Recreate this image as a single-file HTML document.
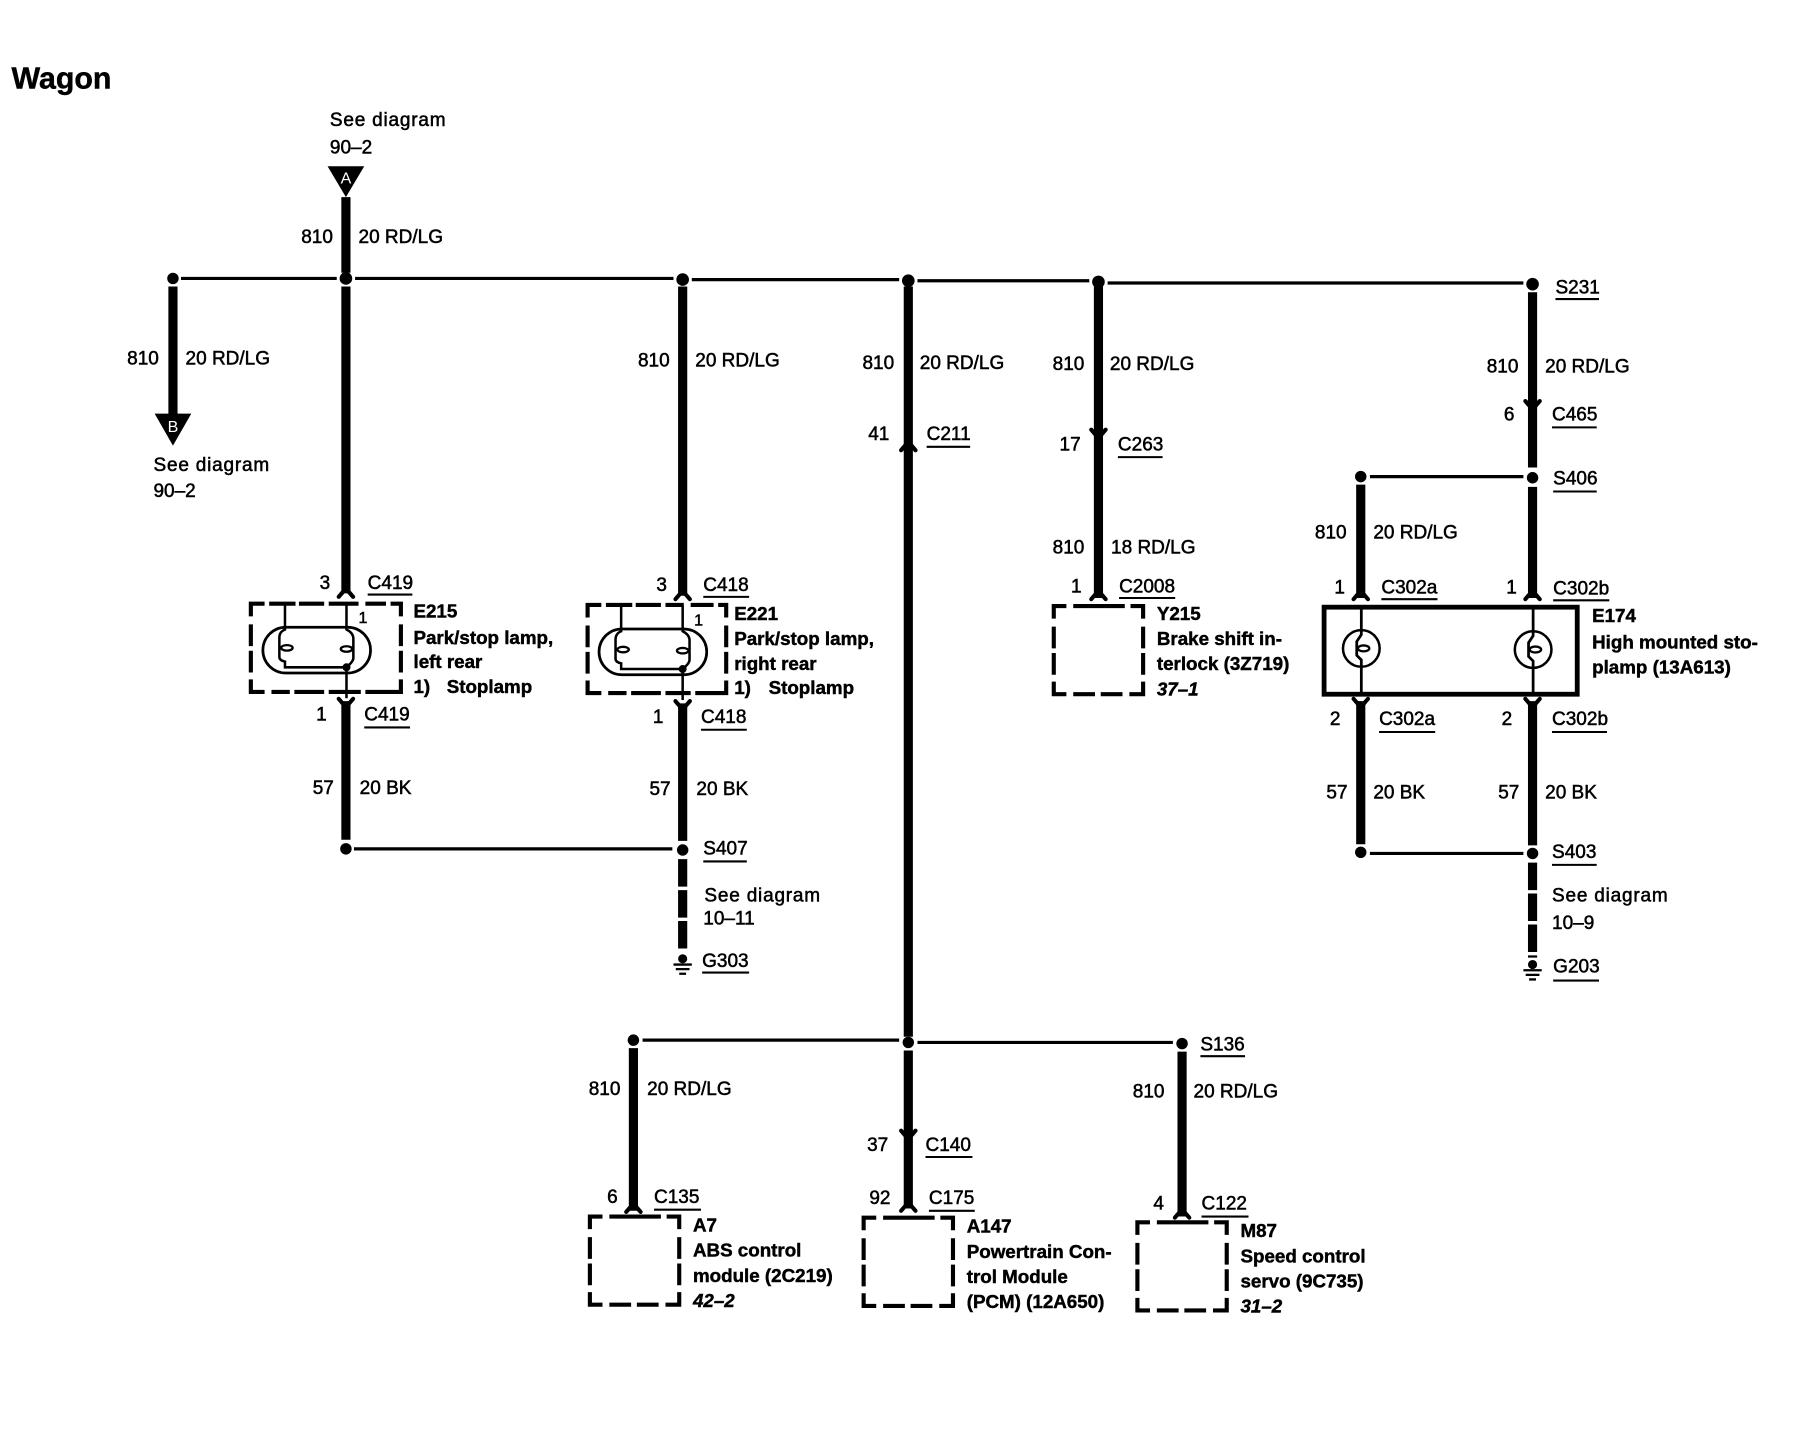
<!DOCTYPE html>
<html><head><meta charset="utf-8"><style>
html,body{margin:0;padding:0;background:#fff}
svg{display:block}
text{font-family:"Liberation Sans",sans-serif;font-size:16.6px;fill:#000;stroke:#000;stroke-width:.45}
.b{font-weight:bold;font-size:16.4px;stroke-width:.4}
.i{font-weight:bold;font-style:italic;font-size:16.4px;stroke-width:.4}
.t{stroke:#000;stroke-width:8;fill:none}
.n{stroke:#000;stroke-width:2.8;fill:none}
.w{stroke:#000;stroke-width:2.4;fill:none}
.u{stroke:#000;stroke-width:1.8;fill:none}
</style></head><body>
<svg width="1796" height="1440" viewBox="0 0 1568 1257" xmlns="http://www.w3.org/2000/svg">
<defs>
<path id="up" d="M-6.3 5 L-2 0 M6.3 5 L2 0" stroke="#000" stroke-width="3.6" stroke-linecap="round" fill="none"/>
<path id="dn" d="M-6.3 -5 L-2 0 M6.3 -5 L2 0" stroke="#000" stroke-width="3.6" stroke-linecap="round" fill="none"/>
<g id="gnd"><circle cx="0" cy="-3" r="4" fill="#000"/><path d="M-8 2H8M-6 6H6M-3 10H3" stroke="#000" stroke-width="2"/></g>
<g id="lamp" fill="none" stroke="#000">
<rect x="-47" y="-20" width="94" height="40" rx="20" stroke-width="2.4"/>
<path d="M-27.7 -40 V-18 Q-32.6 -16 -32.6 -11 V6 Q-32.6 9 -27.7 10 V15 H26" stroke-width="2.2"/>
<path d="M26 -40 V-18 Q32 -15 32 -10 V7 Q32 10 26 15 V42" stroke-width="2.2"/>
<ellipse cx="-26" cy="-2" rx="5" ry="2.4" stroke-width="2"/><ellipse cx="26" cy="-1" rx="5" ry="2.4" stroke-width="2"/>
<circle cx="26" cy="15" r="3" fill="#000"/>
</g>
<g id="bulb" fill="none" stroke="#000">
<circle r="16" stroke-width="2.2"/>
<path d="M0 -37 V-12 L-4 -6 V6 L0 10 V40" stroke-width="2.4"/>
<ellipse cx="2" cy="0" rx="5" ry="2.6" stroke-width="2"/>
</g>
<path id="bx" d="M0 11V0H11M17 0H62M67 0H78V11M0 18V37M0 41V60M0 66V77H11M17 77H36M41 77H60M66 77H78V66M78 18V37M78 41V60" fill="none" stroke="#000" stroke-width="3.6"/>
<path id="bl" d="M0 11V0H12M16 0H39M42 0H64M68 0H94M100 0H118M122 0H131V11M0 18V37M0 41V60M0 66V77H12M18 77H34M38 77H64M68 77H96M100 77H131V66M131 18V37M131 41V60" fill="none" stroke="#000" stroke-width="3.6"/>
<path id="bm" d="M0 11V0H12M16 0H39M42 0H64M68 0H84M90 0H110M114 0H121V11M0 18V37M0 41V60M0 66V77H12M18 77H34M38 77H64M68 77H90M94 77H121V66M121 18V37M121 41V60" fill="none" stroke="#000" stroke-width="3.6"/>
</defs>
<rect width="1568" height="1257" fill="#fff"/>

<!-- thin horizontals -->
<path class="n" d="M158 243H294M310 243H588M604 244H785M801 245H951M967 247H1330"/>
<path class="n" d="M1196 416H1330M309 741H587M1196 745H1330M561 908H785M801 910H1024"/>

<!-- thick verticals -->
<path class="t" d="M302 172V238M302 250V518M302 612V733"/>
<path class="t" d="M151 250V364"/>
<path class="t" d="M596 250V520M596 614V734"/>
<path class="t" d="M793 250V905M793 917V1055"/>
<path class="t" d="M959 250V522"/>
<path class="t" d="M1338 255V408M1338 425V522M1338 612V738"/>
<path class="t" d="M1188 423V522M1188 612V737"/>
<path class="t" d="M553 915V1057M1032 918V1062"/>
<path class="t" stroke-dasharray="24 3" d="M596 750V830M1338 753V836"/>

<!-- dots -->
<g fill="#000">
<circle cx="151" cy="243" r="5"/><circle cx="302" cy="243" r="5.5"/><circle cx="596" cy="244" r="5.5"/><circle cx="793" cy="245" r="5.5"/><circle cx="959" cy="246" r="5.5"/><circle cx="1338" cy="248" r="5.5"/>
<circle cx="1188" cy="416" r="5"/><circle cx="1338" cy="417" r="5"/>
<circle cx="302" cy="741" r="5"/><circle cx="596" cy="742" r="5"/><circle cx="1188" cy="744" r="5"/><circle cx="1338" cy="745" r="5"/>
<circle cx="553" cy="908" r="5"/><circle cx="793" cy="910" r="5"/><circle cx="1032" cy="911" r="5"/>
<path d="M286 145H318L302 172Z"/><path d="M135 361H167L151 389Z"/>
</g>
<text x="302" y="160" text-anchor="middle" style="fill:#fff;stroke:none;font-size:14px">A</text>
<text x="151" y="377" text-anchor="middle" style="fill:#fff;stroke:none;font-size:14px">B</text>

<!-- arrows -->
<use href="#up" x="302" y="516"/><use href="#dn" x="302" y="615"/>
<use href="#up" x="596" y="518"/><use href="#dn" x="596" y="617"/>
<use href="#up" x="793" y="388"/>
<use href="#dn" x="793" y="992"/><use href="#up" x="793" y="1052"/>
<use href="#dn" x="959" y="380"/><use href="#up" x="959" y="518"/>
<use href="#dn" x="1338" y="355"/><use href="#up" x="1188" y="518"/><use href="#up" x="1338" y="518"/>
<use href="#dn" x="1188" y="615"/><use href="#dn" x="1338" y="615"/>
<use href="#up" x="553" y="1053"/><use href="#up" x="1032" y="1058"/>

<!-- dashed boxes -->
<use href="#bl" x="219" y="527"/>
<use href="#bm" x="513" y="528"/>
<use href="#bx" x="920" y="529"/>
<use href="#bx" x="515" y="1062"/>
<use href="#bx" x="754" y="1063"/>
<use href="#bx" x="993" y="1067"/>
<rect x="1156" y="530" width="221" height="76" fill="none" stroke="#000" stroke-width="4.2"/>

<!-- lamps -->
<use href="#lamp" x="276.5" y="567.5"/>
<use href="#lamp" x="570" y="569"/>
<use href="#bulb" x="1188.5" y="566"/>
<use href="#bulb" x="1338.5" y="567"/>
<use href="#gnd" x="596" y="840"/>
<use href="#gnd" x="1338" y="845"/>

<!-- underlines -->
<path class="u" d="M321 519H360M318 635H358M614 521H654M612 637H652M614 752H652M613 849H654M809 390H847M976 399H1015M977 522H1026M1358 261H1396M1355 373H1394M1356 429H1394M1206 523H1255M1356 524H1405M1204 639H1253M1355 639H1403M1355 755H1394M1356 856H1396M1048 922H1087M808 1010H849M571 1056H612M811 1057H851M1049 1062H1090"/>

<!-- text -->
<text x="10" y="77" class="b" style="font-size:26.5px">Wagon</text>
<text x="288" y="110" textLength="101">See diagram</text><text x="288" y="134">90–2</text>
<text x="263" y="212">810</text><text x="313" y="212">20 RD/LG</text>
<text x="111" y="318">810</text><text x="162" y="318">20 RD/LG</text>
<text x="134" y="411" textLength="101">See diagram</text><text x="134" y="434">90–2</text>
<text x="557" y="320">810</text><text x="607" y="320">20 RD/LG</text>
<text x="753" y="322">810</text><text x="803" y="322">20 RD/LG</text>
<text x="758" y="384">41</text><text x="809" y="384">C211</text>
<text x="919" y="323">810</text><text x="969" y="323">20 RD/LG</text>
<text x="925" y="393">17</text><text x="976" y="393">C263</text>
<text x="919" y="483">810</text><text x="970" y="483">18 RD/LG</text>
<text x="935" y="517">1</text><text x="977" y="517">C2008</text>
<text x="1010" y="541" class="b">Y215</text><text x="1010" y="563" class="b">Brake shift in-</text><text x="1010" y="585" class="b">terlock (3Z719)</text><text x="1010" y="607" class="i">37–1</text>
<text x="1358" y="256">S231</text>
<text x="1298" y="325">810</text><text x="1349" y="325">20 RD/LG</text>
<text x="1313" y="367">6</text><text x="1355" y="367">C465</text>
<text x="1356" y="423">S406</text>
<text x="1148" y="470">810</text><text x="1199" y="470">20 RD/LG</text>
<text x="1165" y="518">1</text><text x="1206" y="518">C302a</text><text x="1315" y="518">1</text><text x="1356" y="519">C302b</text>
<text x="1390" y="543" class="b">E174</text><text x="1390" y="566" class="b">High mounted sto-</text><text x="1390" y="588" class="b">plamp (13A613)</text>
<text x="1161" y="633">2</text><text x="1204" y="633">C302a</text><text x="1311" y="633">2</text><text x="1355" y="633">C302b</text>
<text x="1158" y="697">57</text><text x="1199" y="697">20 BK</text><text x="1308" y="697">57</text><text x="1349" y="697">20 BK</text>
<text x="1355" y="749">S403</text>
<text x="1355" y="787" textLength="101">See diagram</text><text x="1355" y="811">10–9</text>
<text x="1356" y="849">G203</text>
<text x="279" y="514">3</text><text x="321" y="514">C419</text>
<text x="361" y="539" class="b">E215</text><text x="361" y="562" class="b">Park/stop lamp,</text><text x="361" y="583" class="b">left rear</text><text x="361" y="605" class="b">1)</text><text x="390" y="605" class="b">Stoplamp</text>
<text x="313" y="544" style="font-size:14px">1</text>
<text x="276" y="629">1</text><text x="318" y="629">C419</text>
<text x="273" y="693">57</text><text x="314" y="693">20 BK</text>
<text x="573" y="516">3</text><text x="614" y="516">C418</text>
<text x="641" y="541" class="b">E221</text><text x="641" y="563" class="b">Park/stop lamp,</text><text x="641" y="585" class="b">right rear</text><text x="641" y="606" class="b">1)</text><text x="671" y="606" class="b">Stoplamp</text>
<text x="606" y="546" style="font-size:14px">1</text>
<text x="570" y="631">1</text><text x="612" y="631">C418</text>
<text x="567" y="694">57</text><text x="608" y="694">20 BK</text>
<text x="614" y="746">S407</text>
<text x="615" y="787" textLength="101">See diagram</text><text x="614" y="807">10–11</text>
<text x="613" y="844">G303</text>
<text x="1048" y="917">S136</text>
<text x="514" y="956">810</text><text x="565" y="956">20 RD/LG</text>
<text x="989" y="958">810</text><text x="1042" y="958">20 RD/LG</text>
<text x="757" y="1005">37</text><text x="808" y="1005">C140</text>
<text x="530" y="1050">6</text><text x="571" y="1050">C135</text>
<text x="759" y="1051">92</text><text x="811" y="1051">C175</text>
<text x="1007" y="1056">4</text><text x="1049" y="1056">C122</text>
<text x="605" y="1075" class="b">A7</text><text x="605" y="1097" class="b">ABS control</text><text x="605" y="1119" class="b">module (2C219)</text><text x="605" y="1141" class="i">42–2</text>
<text x="844" y="1076" class="b">A147</text><text x="844" y="1098" class="b">Powertrain Con-</text><text x="844" y="1120" class="b">trol Module</text><text x="844" y="1142" class="b">(PCM) (12A650)</text>
<text x="1083" y="1080" class="b">M87</text><text x="1083" y="1102" class="b">Speed control</text><text x="1083" y="1124" class="b">servo (9C735)</text><text x="1083" y="1146" class="i">31–2</text>
</svg>
</body></html>
